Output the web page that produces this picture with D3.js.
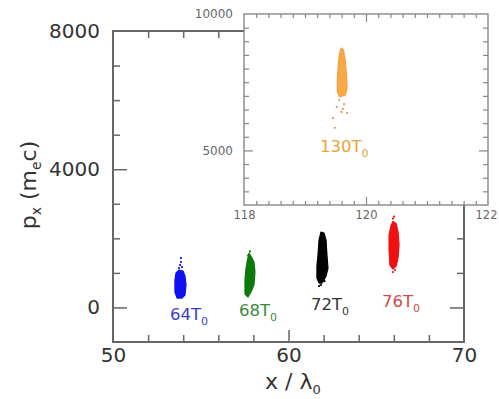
<!DOCTYPE html>
<html>
<head>
<meta charset="utf-8">
<script src="https://cdn.jsdelivr.net/npm/d3@7"></script>
<style>
  body { margin: 0; background: #fff; }
  svg { display: block; }
  text { font-family: "DejaVu Sans", sans-serif; }
</style>
</head>
<body>
<svg id="chart" width="499" height="399"></svg>
<script>
// tick labels
const mainXTicks = [50, 60, 70];
const mainYTicks = [0, 4000, 8000];
const insetXTicks = [118, 120, 122];
const insetYTicks = [5000, 10000];

// snapshot names
const snapNames = ['64T', '68T', '72T', '76T', '130T'];

// dense cores of each bunch, outline: [x / lambda0, px]
const core64 = [[53.76, 1082], [53.99, 1053], [54.10, 909], [54.16, 648], [54.10, 359], [53.93, 272],
  [53.65, 272], [53.53, 446], [53.53, 793], [53.59, 996]];
const core68 = [[57.75, 1574], [57.92, 1430], [58.03, 1314], [58.09, 1024], [58.03, 648], [57.86, 446],
  [57.69, 301], [57.52, 388], [57.52, 793], [57.58, 1140], [57.64, 1314]];
const core72 = [[61.85, 2182], [62.02, 2153], [62.14, 1950], [62.19, 1516], [62.25, 1140], [62.14, 909],
  [62.02, 793], [61.91, 706], [61.74, 706], [61.62, 850], [61.62, 1198], [61.68, 1516], [61.74, 1950]];
const core76 = [[65.95, 2486], [66.13, 2428], [66.24, 2197], [66.30, 1806], [66.24, 1430], [66.13, 1198],
  [65.95, 1111], [65.78, 1227], [65.73, 1661], [65.73, 2095], [65.84, 2370]];
const core130 = [[119.60, 8754], [119.63, 8680], [119.66, 8314], [119.68, 7764], [119.69, 7288], [119.66, 7031],
  [119.57, 6958], [119.53, 7141], [119.53, 7654], [119.55, 8241], [119.57, 8607]];

// stray particles outside the cores
const stray64 = [[53.87, 1430], [53.87, 1314], [53.82, 1227], [53.93, 1169], [53.76, 1140]];
const stray68 = [[57.80, 1620], [57.70, 1500]];
const stray72 = [[61.74, 619], [61.85, 650], [62.05, 760]];
const stray76 = [[66.01, 2631], [65.95, 2573], [65.95, 1024], [66.07, 1080]];
const stray130 = [[119.56, 6848], [119.64, 6700], [119.52, 6590], [119.62, 6520], [119.69, 6370],
  [119.46, 6190], [119.49, 5830], [119.60, 6410]];

const svg = d3.select('#chart');

const main = { left: 113, right: 464, top: 31, bottom: 342 };
const inset = { left: 244, right: 488, top: 14, bottom: 205 };

const x = d3.scaleLinear().domain([50, 70]).range([main.left, main.right]);
const y = d3.scaleLinear().domain([-1000, 8000]).range([main.bottom, main.top]);
const xi = d3.scaleLinear().domain([118, 122]).range([inset.left, inset.right]);
const yi = d3.scaleLinear().domain([3000, 10000]).range([inset.bottom, inset.top]);

function tickRow(axisFn, scale, values, size, at, color, width) {
  const g = svg.append('g').attr('transform', at)
    .call(axisFn(scale).tickValues(values).tickSize(-size).tickSizeOuter(0).tickFormat(''));
  g.select('.domain').remove();
  g.selectAll('line').attr('stroke', color).attr('stroke-width', width);
  return g;
}

function labelRow(axisFn, scale, values, pad, at, size, color) {
  const g = svg.append('g').attr('transform', at)
    .call(axisFn(scale).tickValues(values).tickSize(0).tickPadding(pad).tickFormat(d3.format('d')));
  g.select('.domain').remove();
  g.selectAll('line').remove();
  g.selectAll('text').attr('font-size', size).attr('fill', color)
    .attr('font-family', '"DejaVu Sans", sans-serif');
  return g;
}

// ---- main panel
const axisCol = '#666';
const mainMinorX = d3.range(52, 70, 2).filter(v => v !== 60);
const mainMinorY = [1000, 2000, 3000, 5000, 6000, 7000];
tickRow(d3.axisBottom, x, mainMinorX, 7, `translate(0,${main.bottom})`, axisCol, 1.5);
tickRow(d3.axisBottom, x, [60], 12, `translate(0,${main.bottom})`, axisCol, 1.5);
tickRow(d3.axisTop, x, mainMinorX, 7, `translate(0,${main.top})`, axisCol, 1.5);
tickRow(d3.axisTop, x, [60], 12, `translate(0,${main.top})`, axisCol, 1.5);
tickRow(d3.axisLeft, y, mainMinorY, 7, `translate(${main.left},0)`, axisCol, 1.5);
tickRow(d3.axisLeft, y, [0, 4000], 14, `translate(${main.left},0)`, axisCol, 1.5);
tickRow(d3.axisRight, y, mainMinorY, 7, `translate(${main.right},0)`, axisCol, 1.5);
tickRow(d3.axisRight, y, [0, 4000], 14, `translate(${main.right},0)`, axisCol, 1.5);

svg.append('rect')
  .attr('x', main.left).attr('y', main.top)
  .attr('width', main.right - main.left).attr('height', main.bottom - main.top)
  .attr('fill', 'none').attr('stroke', axisCol).attr('stroke-width', 2);

labelRow(d3.axisLeft, y, mainYTicks, 13, `translate(${main.left},0)`, 20, '#333');
labelRow(d3.axisBottom, x, mainXTicks, 6, `translate(0,${main.bottom})`, 20, '#333');

// axis titles
const xTitle = svg.append('text')
  .attr('x', 265).attr('y', 389)
  .attr('font-size', 22).attr('fill', '#333');
xTitle.append('tspan').text('x / λ');
xTitle.append('tspan').attr('font-size', 13).attr('dy', 5).text('0');

const yTitle = svg.append('text')
  .attr('transform', 'translate(36,185) rotate(-90)')
  .attr('text-anchor', 'middle')
  .attr('font-size', 22).attr('fill', '#333');
yTitle.append('tspan').text('p');
yTitle.append('tspan').attr('font-size', 14).attr('dy', 5).text('x');
yTitle.append('tspan').attr('dy', -5).text(' (m');
yTitle.append('tspan').attr('font-size', 14).attr('dy', 5).text('e');
yTitle.append('tspan').attr('dy', -5).text('c)');

// ---- bunches in the main panel
const mainLine = d3.line().x(d => x(d[0])).y(d => y(d[1])).curve(d3.curveLinearClosed);

const bunches = [
  { core: core64, stray: stray64, color: '#1010f0', name: snapNames[0], textCol: '#3c3cc8', at: [170, 320] },
  { core: core68, stray: stray68, color: '#0a7a0a', name: snapNames[1], textCol: '#3a8a3a', at: [239, 316] },
  { core: core72, stray: stray72, color: '#000000', name: snapNames[2], textCol: '#333333', at: [311, 310] },
  { core: core76, stray: stray76, color: '#f01010', name: snapNames[3], textCol: '#cc4b4b', at: [382, 307] }
];

function drawLabel(name, col, at) {
  const t = svg.append('text')
    .attr('x', at[0]).attr('y', at[1])
    .attr('font-size', 16.5).attr('fill', col);
  t.append('tspan').text(name);
  t.append('tspan').attr('font-size', 11).attr('dy', 5).text('0');
}

bunches.forEach(b => {
  svg.append('path')
    .attr('d', mainLine(b.core))
    .attr('fill', b.color).attr('stroke', b.color)
    .attr('stroke-width', 1.2).attr('stroke-linejoin', 'round');
  svg.append('g').selectAll('circle').data(b.stray).join('circle')
    .attr('cx', d => x(d[0])).attr('cy', d => y(d[1])).attr('r', 1.1)
    .attr('fill', b.color);
  drawLabel(b.name, b.textCol, b.at);
});

// ---- inset
const insetCol = '#888';
svg.append('rect')
  .attr('x', inset.left).attr('y', inset.top)
  .attr('width', inset.right - inset.left).attr('height', inset.bottom - inset.top)
  .attr('fill', '#fff');

const insetMinorX = d3.range(118.2, 122, 0.2).filter(v => Math.abs(v - 120) > 0.01);
const insetMinorY = d3.range(3500, 10000, 500).filter(v => v !== 5000);
tickRow(d3.axisBottom, xi, insetMinorX, 4, `translate(0,${inset.bottom})`, insetCol, 1.2);
tickRow(d3.axisBottom, xi, [120], 8, `translate(0,${inset.bottom})`, insetCol, 1.2);
tickRow(d3.axisTop, xi, insetMinorX, 4, `translate(0,${inset.top})`, insetCol, 1.2);
tickRow(d3.axisTop, xi, [120], 8, `translate(0,${inset.top})`, insetCol, 1.2);
tickRow(d3.axisLeft, yi, insetMinorY, 5, `translate(${inset.left},0)`, insetCol, 1.2);
tickRow(d3.axisLeft, yi, [5000], 9, `translate(${inset.left},0)`, insetCol, 1.2);
tickRow(d3.axisRight, yi, insetMinorY, 5, `translate(${inset.right},0)`, insetCol, 1.2);
tickRow(d3.axisRight, yi, [5000], 9, `translate(${inset.right},0)`, insetCol, 1.2);

svg.append('rect')
  .attr('x', inset.left).attr('y', inset.top)
  .attr('width', inset.right - inset.left).attr('height', inset.bottom - inset.top)
  .attr('fill', 'none').attr('stroke', insetCol).attr('stroke-width', 1.4);

labelRow(d3.axisLeft, yi, insetYTicks, 11, `translate(${inset.left},0)`, 12, '#666');
const insetXLabels = labelRow(d3.axisBottom, xi, insetXTicks, 6, `translate(0,${inset.bottom})`, 11.5, '#666');
// keep the last label inside the page
insetXLabels.selectAll('text').filter(d => d === 122).attr('x', -2);

const insetLine = d3.line().x(d => xi(d[0])).y(d => yi(d[1])).curve(d3.curveLinearClosed);
svg.append('path')
  .attr('d', insetLine(core130))
  .attr('fill', '#f5a030').attr('fill-opacity', 0.9)
  .attr('stroke', '#f0a040').attr('stroke-width', 1.2).attr('stroke-linejoin', 'round');
svg.append('g').selectAll('circle').data(stray130).join('circle')
  .attr('cx', d => xi(d[0])).attr('cy', d => yi(d[1])).attr('r', 1.1)
  .attr('fill', '#d89a50');
drawLabel(snapNames[4], '#e8a33a', [320, 152]);
</script>
</body>
</html>
